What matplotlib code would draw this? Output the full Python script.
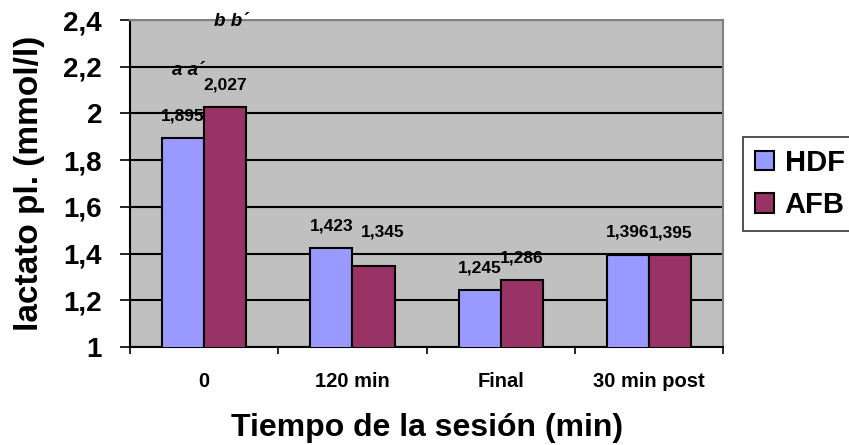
import matplotlib.pyplot as plt
import numpy as np

plt.rcParams['font.family'] = ['Liberation Sans', 'DejaVu Sans']
plt.rcParams['font.weight'] = 'bold'

categories = ['0', '120 min', 'Final', '30 min post']
hdf = [1.895, 1.423, 1.245, 1.396]
afb = [2.027, 1.345, 1.286, 1.395]
series = ['HDF', 'AFB']
yticks = [1, 1.2, 1.4, 1.6, 1.8, 2, 2.2, 2.4]

fig = plt.figure(figsize=(8.49, 4.45), dpi=100)
ax = fig.add_axes([0.153, 0.22, 0.699, 0.735])
ax.set_facecolor('#C0C0C0')

x = np.arange(len(categories))
w = 0.285
b1 = ax.bar(x - w / 2, hdf, w, color='#9999FF', edgecolor='black', linewidth=1.5, label=series[0], zorder=3)
b2 = ax.bar(x + w / 2, afb, w, color='#993366', edgecolor='black', linewidth=1.5, label=series[1], zorder=3)

def fmt(v):
    return f"{v:.3f}".replace('.', ',')

# label offsets in points (Excel placed one label a bit off)
offs_hdf = [(0, 16), (0, 16), (0, 16), (0, 16)]
offs_afb = [(0, 16), (6.5, 25), (0, 16), (0, 16)]
for bars, vals, offs in [(b1, hdf, offs_hdf), (b2, afb, offs_afb)]:
    for r, v, o in zip(bars, vals, offs):
        ax.annotate(fmt(v), (r.get_x() + r.get_width() / 2, v), xytext=o,
                    textcoords='offset points', ha='center', va='center',
                    fontsize=12.5, fontweight='bold', zorder=4)

# significance letters
ax.text(x[0] - 0.11, 2.186, 'a a´', ha='center', va='center', fontsize=13.5,
        fontweight='bold', style='italic')
ax.text(x[0] + 0.18, 2.394, 'b b´', ha='center', va='center', fontsize=13.5,
        fontweight='bold', style='italic')

ax.set_ylim(1, 2.4)
ax.set_xlim(-0.5, 3.5)
ax.set_yticks(yticks)
ax.set_yticklabels([f"{t:g}".replace('.', ',') for t in yticks], fontsize=20, fontweight='bold')
ax.yaxis.grid(True, color='black', linewidth=1.5, zorder=0)
ax.set_axisbelow(True)

ax.set_xticks(x)
ax.set_xticklabels(categories, fontsize=14.5, fontweight='bold')
ax.tick_params(axis='x', length=0, pad=18)
ax.set_xticks(np.arange(-0.5, 4, 1), minor=True)
ax.tick_params(axis='x', which='minor', length=5, width=1.2, direction='out')
ax.tick_params(axis='y', length=7, width=1.2, direction='out', pad=13)

for s in ['left', 'bottom']:
    ax.spines[s].set_color('black')
    ax.spines[s].set_linewidth(1.5)
for s in ['top', 'right']:
    ax.spines[s].set_color('#808080')
    ax.spines[s].set_linewidth(1.5)

ax.set_ylabel('lactato pl. (mmol/l)', fontsize=24, fontweight='bold', labelpad=13)
ax.set_xlabel('Tiempo de la sesión (min)', fontsize=23, fontweight='bold', labelpad=16)

leg = fig.legend(loc='upper left', bbox_to_anchor=(743 / 849, 1 - 137 / 445), fontsize=21,
                 frameon=True, fancybox=False, edgecolor='black', handlelength=0.65,
                 handleheight=0.65, handletextpad=0.38, borderpad=0.4, labelspacing=0.5,
                 borderaxespad=0)
leg.get_frame().set_linewidth(1.2)

fig.savefig('out.png', dpi=100)
